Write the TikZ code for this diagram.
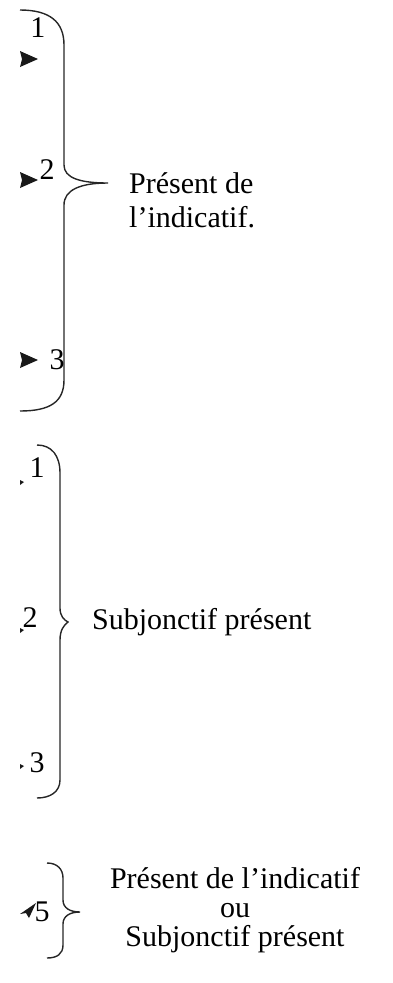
\documentclass[tikz,border=0pt]{standalone}
\usepackage{fontspec}
\setmainfont{Liberation Serif}
\begin{document}
\begin{tikzpicture}[x=1pt,y=-1pt,
  brace/.style={draw=black!85,line width=1.4pt},
  lab/.style={inner sep=0pt,font=\fontsize{30}{34}\selectfont},
  tri/.style={fill=black!90}]
\useasboundingbox (0,0) rectangle (392,983);
% ---- brace 1
\draw[brace] (20,10) .. controls (50,10) and (64,22) .. (64,45)
  -- (64,165) .. controls (64,178) and (80,183) .. (108,183)
  .. controls (80,183) and (64,190) .. (64,205)
  -- (64,380) .. controls (64,402) and (50,411) .. (20,411);
\node[lab] (n11) at (38,28) {1};
\node[lab] (n12) at (47,170) {2};
\node[lab] (n13) at (57,360) {3};
\fill[tri] (20,51) -- (38,59) -- (20,67) -- (22,59) -- cycle;
\fill[tri] (20,172) -- (38,180) -- (20,188) -- (22,180) -- cycle;
\fill[tri] (20,352) -- (38,360) -- (20,368) -- (22,360) -- cycle;
\node[lab,anchor=west,align=left] (t1) at (129,200) {Présent de\\l’indicatif.};
% ---- brace 2
\draw[brace] (37,445) .. controls (52,445) and (60,456) .. (60,473)
  -- (60,608) .. controls (60,616) and (64,620) .. (68,622)
  .. controls (64,625) and (60,630) .. (60,640)
  -- (60,780) .. controls (60,792) and (50,798) .. (37,798);
\node[lab] (n21) at (37,468) {1};
\node[lab] (n22) at (30,618) {2};
\node[lab] (n23) at (37,763) {3};
\fill[tri] (20,480) -- (24,482) -- (20,485) -- cycle;
\fill[tri] (20,628) -- (24,630) -- (20,633) -- cycle;
\fill[tri] (20,764) -- (24,766) -- (20,769) -- cycle;
\node[lab,anchor=west] (t2) at (92,622) {Subjonctif présent};
% ---- brace 3
\draw[brace] (47,863) .. controls (57,863) and (63,869) .. (63,878)
  -- (63,900) .. controls (63,908) and (70,912) .. (80,912)
  .. controls (70,912) and (63,916) .. (63,924)
  -- (63,945) .. controls (63,954) and (57,958) .. (47,958);
\node[lab] (n35) at (42,912) {5};
\fill[tri] (20,914) -- (36,903) -- (29,918) -- (26,913) -- cycle;
\node[lab,align=center] (t3) at (235,910) {Présent de l’indicatif\\[-5pt]ou\\[-5pt]Subjonctif présent};
\end{tikzpicture}
\end{document}
